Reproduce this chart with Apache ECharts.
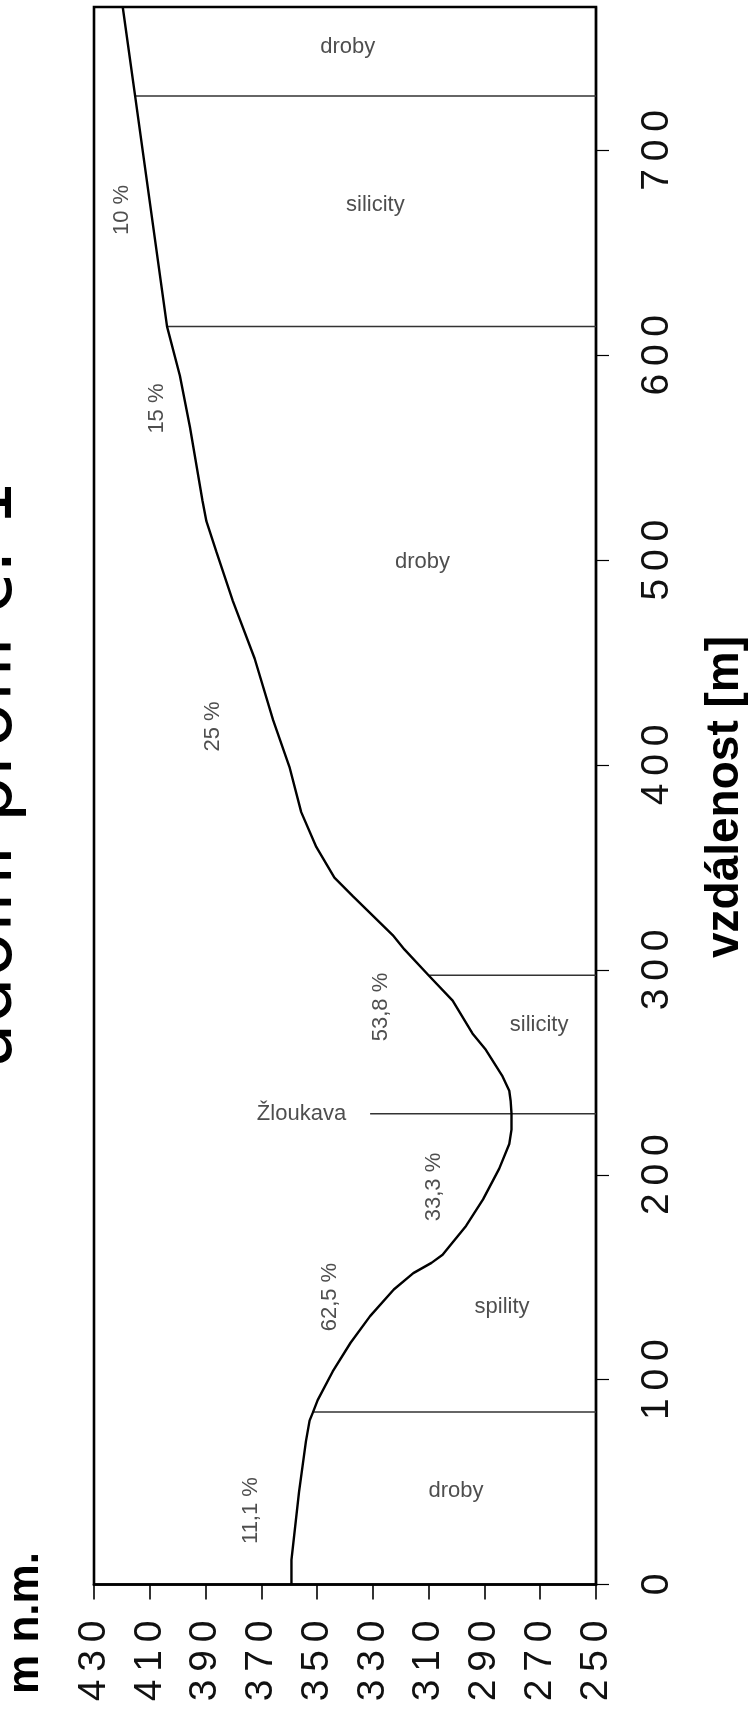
<!DOCTYPE html>
<html>
<head>
<meta charset="utf-8">
<script src="https://cdn.jsdelivr.net/npm/echarts@6/dist/echarts.min.js"></script>
<style>
html,body{margin:0;padding:0;background:#fff;}
#chart{width:750px;height:1713px;}
</style>
</head>
<body>
<div id="chart"></div>
<script>
// ---- data (distance in m, elevation in m n.m.) ----
const profileDist = [0, 12, 45, 70, 80, 84, 90, 104, 118, 131, 144, 152, 157, 161, 165, 175, 188, 203, 215, 222, 230, 236, 241, 248, 261, 269, 285, 297, 310, 317, 336, 345, 360, 377, 399, 422, 452, 480, 504, 519, 529, 565, 590, 614, 727, 770];
const profileElev = [359.2, 359.2, 356.5, 354, 352.7, 351.5, 349.8, 344.4, 338, 331, 322.5, 315.5, 309, 305, 302.6, 296.6, 290.5, 284.7, 281.1, 280.3, 280.3, 280.6, 281.1, 283.5, 289.5, 294.3, 301.4, 309.8, 318.7, 322.9, 337.2, 343.8, 350.3, 355.7, 359.9, 365.8, 372.4, 380.2, 386.1, 389.7, 391.1, 395.6, 399.2, 403.8, 415.3, 419.7];

const boundaryDist = [84.2, 229.8, 297.4, 614, 726.6];
const boundaryStartElev = [351.5, 331.0, 309.8, 403.8, 415.3];

const rockNames = ['droby', 'spility', 'silicity', 'droby', 'silicity', 'droby'];
const rockElev = [300.2, 283.7, 270.4, 312.2, 329.1, 339.0];
const rockDist = [45.9, 135.4, 272.9, 499.3, 673.3, 750.6];

const slopeNames = ['11,1 %', '62,5 %', '33,3 %', '53,8 %', '25 %', '15 %', '10 %'];
const slopeElev = [373.6, 345.5, 308.0, 327.0, 387.3, 407.6, 420.1];
const slopeDist = [36.1, 140.3, 194.0, 281.9, 418.8, 574, 670.9];

const riverName = ['Žloukava'];
const riverElev = [339.6];
const riverDist = [229.8];

const elevTicks = [250, 270, 290, 310, 330, 350, 370, 390, 410, 430];
const distTicks = [0, 100, 200, 300, 400, 500, 600, 700];

const titleText = 'údolní profil č. 1';
const elevAxisName = 'm n.m.';
const distAxisName = 'vzdálenost [m]';

// ---- chart ----
const chart = echarts.init(document.getElementById('chart'), null, {renderer: 'canvas'});
const spaced = v => String(v).split('').join('\u2009');

const series = [];
series.push({
  type: 'line',
  data: profileDist.map((d, i) => [profileElev[i], d]),
  symbol: 'none',
  lineStyle: {color: '#000', width: 2.4},
  z: 5,
  silent: true
});
boundaryDist.forEach((d, i) => {
  series.push({
    type: 'line',
    data: [[boundaryStartElev[i], d], [250, d]],
    symbol: 'none',
    lineStyle: {color: '#333', width: 1.5},
    z: 4,
    silent: true
  });
});
series.push({
  type: 'scatter',
  symbolSize: 0,
  data: rockNames.map((n, i) => ({name: n, value: [rockElev[i], rockDist[i]]})),
  label: {show: true, position: 'inside', formatter: p => p.name,
    fontFamily: 'Liberation Sans', fontSize: 22, color: '#222'},
  silent: true
});
series.push({
  type: 'scatter',
  symbolSize: 0,
  data: slopeNames.map((n, i) => ({name: n, value: [slopeElev[i], slopeDist[i]]})),
  label: {show: true, position: 'inside', rotate: 90, formatter: p => p.name,
    fontFamily: 'Liberation Sans', fontSize: 22, color: '#222'},
  silent: true
});
series.push({
  type: 'scatter',
  symbolSize: 0,
  data: riverName.map((n, i) => ({name: n, value: [riverElev[i], riverDist[i]]})),
  label: {show: true, position: 'inside', align: 'right', formatter: p => p.name,
    fontFamily: 'Liberation Sans', fontSize: 22, color: '#222'},
  silent: true
});

const option = {
  backgroundColor: '#fff',
  animation: false,
  grid: {left: 94, top: 7, width: 502, height: 1577.5, show: true,
    borderColor: '#000', borderWidth: 2.6, backgroundColor: 'transparent', containLabel: false},
  xAxis: {
    type: 'value', min: 250, max: 430, interval: 20, inverse: true, position: 'bottom',
    axisLine: {show: true, onZero: false, lineStyle: {color: '#000', width: 2.6}},
    axisTick: {show: true, inside: false, length: 15, customValues: elevTicks, lineStyle: {color: '#000', width: 1.6}},
    axisLabel: {show: true, rotate: 90, margin: 36, customValues: elevTicks, formatter: spaced,
      fontFamily: 'Liberation Sans', fontSize: 39, color: '#111'},
    splitLine: {show: false}
  },
  yAxis: {
    type: 'value', min: 0, max: 770, interval: 100, position: 'right',
    axisLine: {show: true, onZero: false, lineStyle: {color: '#000', width: 2.2}},
    axisTick: {show: true, inside: false, length: 13, customValues: distTicks, lineStyle: {color: '#000', width: 1.2}},
    axisLabel: {show: true, rotate: 90, margin: 42, customValues: distTicks, formatter: spaced,
      fontFamily: 'Liberation Sans', fontSize: 39, color: '#111'},
    splitLine: {show: false}
  },
  graphic: [
    {type: 'text', x: -8, y: 775, rotation: Math.PI / 2, silent: true,
      style: {text: titleText, fontFamily: 'DejaVu Sans', fontSize: 73, fill: '#000',
        textAlign: 'center', textVerticalAlign: 'middle'}},
    {type: 'text', x: 26, y: 1623, rotation: Math.PI / 2, silent: true,
      style: {text: elevAxisName, fontFamily: 'Liberation Sans', fontWeight: 'bold', fontSize: 44, fill: '#000',
        textAlign: 'center', textVerticalAlign: 'middle'}},
    {type: 'text', x: 725, y: 797, rotation: Math.PI / 2, silent: true,
      style: {text: distAxisName, fontFamily: 'Liberation Sans', fontWeight: 'bold', fontSize: 46, fill: '#000',
        textAlign: 'center', textVerticalAlign: 'middle'}}
  ],
  series: series
};
chart.setOption(option);
</script>
</body>
</html>
